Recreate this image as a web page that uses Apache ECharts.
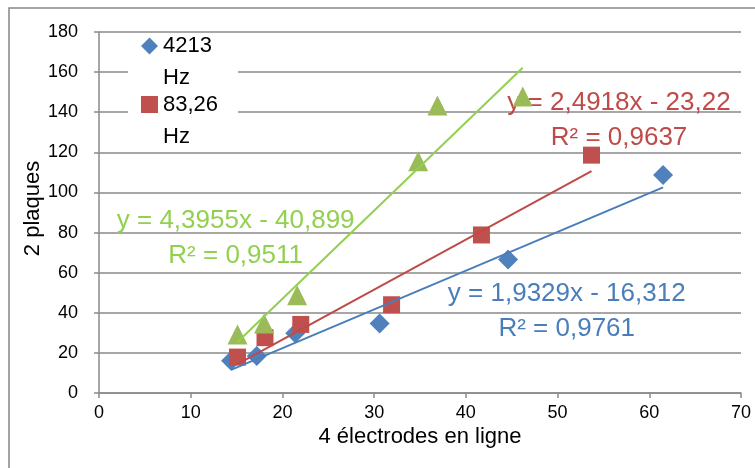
<!DOCTYPE html>
<html>
<head>
<meta charset="utf-8">
<script src="https://cdn.jsdelivr.net/npm/echarts@6/dist/echarts.min.js"></script>
<style>
  html, body { margin: 0; padding: 0; background: #ffffff; }
  #chart { width: 755px; height: 468px; }
</style>
</head>
<body>
<div id="chart"></div>
<script>
// Measurements: 4 electrodes in line (x) vs 2 plates (y)
const seriesNames = ['4213 Hz', '83,26 Hz', 'Série3'];

const xBlue  = [14.4, 17.2, 21.4, 30.6, 44.6, 61.5];
const yBlue  = [16.1, 18.4, 29.8, 34.7, 66.6, 108.7];

const xRed   = [15.1, 18.1, 22.0, 31.9, 41.7, 53.7];
const yRed   = [17.9, 27.6, 34.2, 44.0, 78.8, 118.6];

const xGreen = [15.1, 18.0, 21.6, 34.8, 36.9, 46.2];
const yGreen = [29.2, 34.7, 48.7, 115.5, 143.4, 147.9];

// Linear trendlines: slope, intercept, R²
const fitBlue  = [1.9329, -16.312, 0.9761];
const fitRed   = [2.4918, -23.22, 0.9637];
const fitGreen = [4.3955, -40.899, 0.9511];

// Axis ranges: min, max, interval
const xRange = [0, 70, 10];
const yRange = [0, 180, 20];

const FONT = '"Liberation Sans", Arial, sans-serif';
const GRID_GRAY = '#8a8a8a';
const colors = { blue: '#4F81BD', red: '#C0504D', green: '#9BBB59' };
const trendColors = { blue: '#4A7EBB', red: '#BE4B48', green: '#92D050' };

function pairs(xs, ys) { return xs.map((x, i) => [x, ys[i]]); }
function fr(n) { return String(n).replace('.', ','); }
function equation(fit) {
  const sign = fit[1] < 0 ? ' - ' : ' + ';
  return 'y = ' + fr(fit[0]) + 'x' + sign + fr(Math.abs(fit[1])) + '\nR² = ' + fr(fit[2]);
}
function trendPoints(fit, xs) {
  const lo = Math.min.apply(null, xs), hi = Math.max.apply(null, xs);
  return [[lo, fit[0] * lo + fit[1]], [hi, fit[0] * hi + fit[1]]];
}
function scatter(name, xs, ys, symbol, size, color, z) {
  return {
    type: 'scatter', name: name, data: pairs(xs, ys),
    symbol: symbol, symbolSize: size, z: z,
    itemStyle: { color: color, opacity: 1 },
    emphasis: { disabled: true }
  };
}
function trend(fit, xs, color, labelCoord) {
  return {
    type: 'line', name: 'trend', data: trendPoints(fit, xs),
    symbol: 'none', z: 6, silent: true,
    lineStyle: { color: color, width: 2 },
    markPoint: {
      symbol: 'circle', symbolSize: 0, silent: true,
      data: [{ coord: labelCoord }],
      label: {
        show: true, position: 'inside', formatter: equation(fit),
        color: color, fontFamily: FONT, fontSize: 26, lineHeight: 35, align: 'center'
      }
    }
  };
}

const chart = echarts.init(document.getElementById('chart'), null, { renderer: 'canvas' });
chart.setOption({
  animation: false,
  backgroundColor: '#ffffff',
  textStyle: { fontFamily: FONT },
  grid: { left: 99, right: 14, top: 32, bottom: 75, containLabel: false },
  graphic: [
    { type: 'rect', z: 0, silent: true,
      shape: { x: 9, y: 8, width: 800, height: 500 },
      style: { fill: 'none', stroke: '#868686', lineWidth: 1.5 } },
    { type: 'rect', z: 1, silent: true,
      shape: { x: 128, y: 35, width: 110, height: 113 },
      style: { fill: '#ffffff' } }
  ],
  legend: {
    data: [
      { name: seriesNames[0], icon: 'diamond' },
      { name: seriesNames[1], icon: 'rect' }
    ],
    orient: 'vertical', left: 141, top: -2, padding: 0,
    itemWidth: 17, itemHeight: 17, itemGap: -37.5,
    selectedMode: false,
    // the value sits beside the marker, the unit wraps onto the next line
    formatter: function (n) { return ' \n' + n.replace(' ', '\n'); },
    textStyle: { fontFamily: FONT, fontSize: 22, color: '#000', lineHeight: 32 }
  },
  xAxis: {
    type: 'value', min: xRange[0], max: xRange[1], interval: xRange[2],
    name: '4 électrodes en ligne', nameLocation: 'middle', nameGap: 33,
    nameMoveOverlap: false,
    nameTextStyle: { fontFamily: FONT, fontSize: 22, color: '#000' },
    axisLine: { show: true, lineStyle: { color: GRID_GRAY, width: 1.5 } },
    axisTick: { show: true, length: 5, lineStyle: { color: GRID_GRAY, width: 1.5 } },
    axisLabel: { fontFamily: FONT, fontSize: 18, color: '#000', margin: 11 },
    splitLine: { show: false }
  },
  yAxis: {
    type: 'value', min: yRange[0], max: yRange[1], interval: yRange[2],
    name: '2 plaques', nameLocation: 'middle', nameGap: 55,
    nameMoveOverlap: false,
    nameTextStyle: { fontFamily: FONT, fontSize: 22, color: '#000', padding: [0, 0, 0, 8] },
    axisLine: { show: true, lineStyle: { color: GRID_GRAY, width: 1.5 } },
    axisTick: { show: true, length: 5, lineStyle: { color: GRID_GRAY, width: 1.5 } },
    axisLabel: { fontFamily: FONT, fontSize: 18, color: '#000', margin: 21 },
    splitLine: { show: true, lineStyle: { color: GRID_GRAY, width: 1.5 } }
  },
  series: [
    scatter(seriesNames[0], xBlue, yBlue, 'diamond', 20, colors.blue, 3),
    scatter(seriesNames[1], xRed, yRed, 'rect', 17, colors.red, 4),
    scatter(seriesNames[2], xGreen, yGreen, 'triangle', 20, colors.green, 5),
    trend(fitBlue, xBlue, trendColors.blue, [51.0, 40.5]),
    trend(fitRed, xRed, trendColors.red, [56.7, 136.0]),
    trend(fitGreen, xGreen, trendColors.green, [14.9, 77.1])
  ]
});
</script>
</body>
</html>
